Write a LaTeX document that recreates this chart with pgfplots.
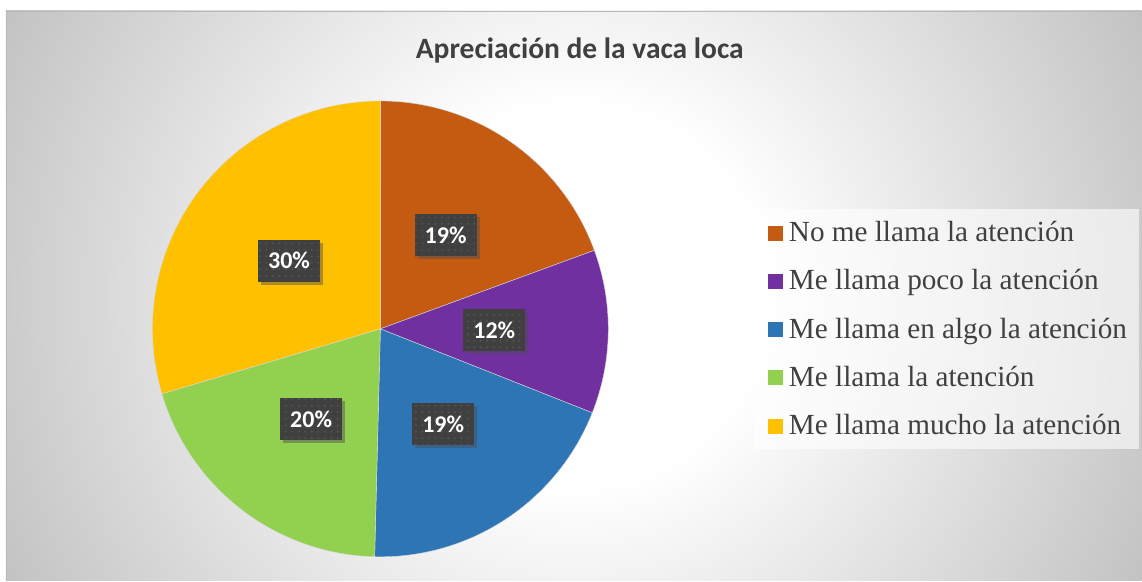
\documentclass[border=0pt]{standalone}
\usepackage{pgfplots}
\pgfplotsset{compat=1.18}
\usepackage{pgfplotstable}
\usepackage{fontspec}
\setmainfont{Liberation Serif}
\newfontfamily\carlito{Carlito}
\usetikzlibrary{calc,shadows,patterns.meta}

\definecolor{cOrange}{HTML}{C55A11}
\definecolor{cPurple}{HTML}{7030A0}
\definecolor{cBlue}{HTML}{2E75B6}
\definecolor{cGreen}{HTML}{92D050}
\definecolor{cYellow}{HTML}{FFC000}
\definecolor{cText}{HTML}{404040}
\definecolor{cBgOut}{HTML}{C2C2C2}
\definecolor{cLabel}{HTML}{404040}
\definecolor{cDot}{HTML}{5A5A5A}

\pgfdeclareradialshading{bgshade}{\pgfpoint{0bp}{0bp}}{color(0bp)=(white); color(190bp)=(white); color(640bp)=(cBgOut)}

\pgfplotstableread[col sep=comma]{
name,value,color
No me llama la atención,19.4,cOrange
Me llama poco la atención,11.6,cPurple
Me llama en algo la atención,19.4,cBlue
Me llama la atención,20.0,cGreen
Me llama mucho la atención,29.6,cYellow
}\datatable

\begin{document}
\begin{tikzpicture}
\begin{axis}[
  width=1142bp, height=581bp, scale only axis,
  xmin=0, xmax=1142, ymin=0, ymax=581,
  hide axis, clip=false,
]
% background
\pgfplotsextra{%
  \fill[white] (axis cs:0,0) rectangle (axis cs:1142,581);
  \begin{scope}
    \clip (axis cs:6,0) rectangle (axis cs:1142,570);
    \node[overlay, inner sep=0pt, outer sep=0pt] at (axis cs:574,285) {\pgfuseshading{bgshade}};
  \end{scope}
  \draw[gray!55, line width=0.8bp] (axis cs:1142,570) -- (axis cs:6,570) -- (axis cs:6,0);
}
% pie slices
\pgfplotsextra{%
  \xdef\cumstart{0}%
  \foreach \i in {0,...,4}{%
    \pgfplotstablegetelem{\i}{value}\of\datatable \let\v\pgfplotsretval
    \pgfplotstablegetelem{\i}{color}\of\datatable \let\c\pgfplotsretval
    \pgfmathsetmacro{\sa}{90-3.6*\cumstart}%
    \pgfmathsetmacro{\ea}{90-3.6*(\cumstart+\v)}%
    \fill[\c, draw=white!85!black, line width=0.4bp] (axis cs:380.5,252) -- ++(\sa:228bp) arc[start angle=\sa, end angle=\ea, radius=228bp] -- cycle;
    \pgfmathsetmacro{\newcum}{\cumstart+\v}%
    \xdef\cumstart{\newcum}%
  }%
}
% data labels
\pgfplotsextra{%
  \xdef\cumstart{0}%
  \foreach \i in {0,...,4}{%
    \pgfplotstablegetelem{\i}{value}\of\datatable \let\v\pgfplotsretval
    \pgfmathsetmacro{\ma}{90-3.6*(\cumstart+\v/2)}%
    \node[fill=cLabel, minimum width=62bp, minimum height=42bp, inner sep=0pt,
          drop shadow={shadow xshift=3bp, shadow yshift=-3bp, opacity=0.45, fill=black!70},
          postaction={pattern={Dots[radius=0.9bp, distance=6.5bp]}, pattern color=cDot},
          text=white, font=\carlito\bfseries\fontsize{24bp}{28bp}\selectfont]
      at ($(axis cs:380.5,252)+(\ma:114bp)$) {\pgfmathprintnumber[fixed,precision=0,assume math mode=true]{\v}\%};
    \pgfmathsetmacro{\newcum}{\cumstart+\v}%
    \xdef\cumstart{\newcum}%
  }%
}
% legend
\pgfplotsextra{%
  \fill[white, fill opacity=0.6] (axis cs:754,132) rectangle (axis cs:1139,372);
  \foreach \i in {0,...,4}{%
    \pgfplotstablegetelem{\i}{name}\of\datatable \let\n\pgfplotsretval
    \pgfplotstablegetelem{\i}{color}\of\datatable \let\c\pgfplotsretval
    \pgfmathsetmacro{\yb}{581-241.7-48.3*\i}%
    \fill[\c] (axis cs:768,\yb+1) rectangle (axis cs:783,\yb+16);
    \node[anchor=base west, inner sep=0pt, text=cText, font=\fontsize{29.2bp}{34bp}\selectfont]
      at (axis cs:789,\yb) {\n};
  }%
}
% title
\pgfplotsextra{%
  \node[anchor=base, inner sep=0pt, text=cText, font=\carlito\bfseries\fontsize{29.5bp}{34bp}\selectfont]
    at (axis cs:580,522.7) {Apreciación de la vaca loca};
}
\end{axis}
\end{tikzpicture}
\end{document}
